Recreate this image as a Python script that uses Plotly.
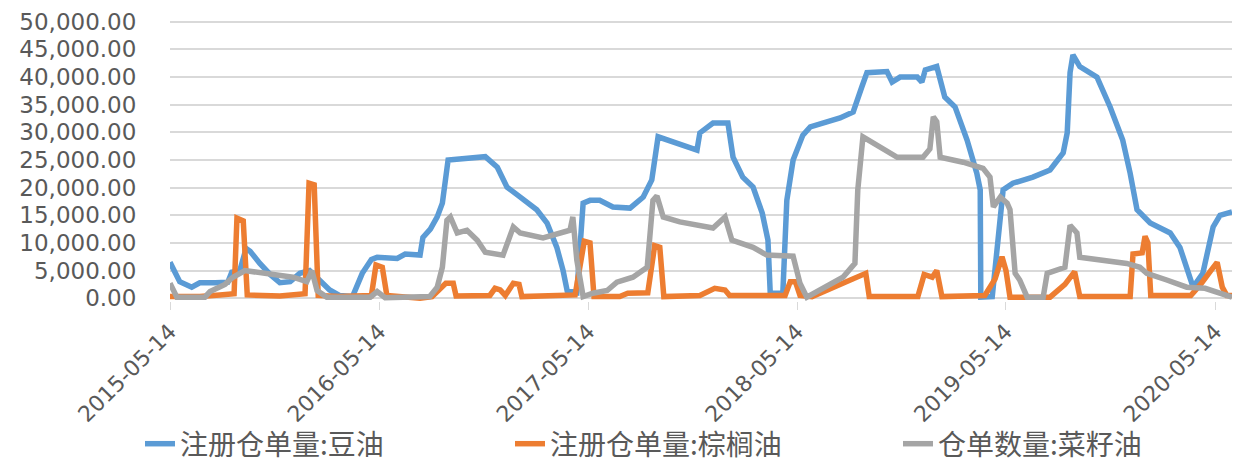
import plotly.graph_objects as go

# ---- data ----
soy_dates = ["2015-05-14","2015-05-31","2015-06-21","2015-07-05","2015-08-01","2015-08-23","2015-08-30",
             "2015-09-13","2015-09-24","2015-10-01","2015-10-18","2015-11-05","2015-11-22","2015-12-10",
             "2015-12-27","2016-01-13","2016-01-30","2016-02-17","2016-03-05","2016-03-28","2016-04-14",
             "2016-04-30","2016-05-10","2016-06-14","2016-06-28","2016-07-24","2016-07-29","2016-08-11",
             "2016-08-23","2016-09-01","2016-09-11","2016-10-19","2016-11-15","2016-12-06","2016-12-23",
             "2017-01-10","2017-02-13","2017-03-03","2017-03-20","2017-03-31","2017-04-07","2017-04-24",
             "2017-05-05","2017-05-17","2017-06-03","2017-06-26","2017-07-26","2017-08-18","2017-09-02",
             "2017-09-13","2017-10-09","2017-11-20","2017-11-25","2017-12-18","2018-01-13","2018-01-22",
             "2018-02-08","2018-02-26","2018-03-14","2018-03-24","2018-03-28","2018-04-19","2018-04-26",
             "2018-05-07","2018-05-24","2018-06-06","2018-07-28","2018-08-20","2018-09-04","2018-09-13",
             "2018-10-18","2018-10-27","2018-11-10","2018-12-10","2018-12-18","2018-12-24","2019-01-13",
             "2019-01-27","2019-02-14","2019-03-07","2019-03-24","2019-03-30","2019-03-31","2019-04-20",
             "2019-05-09","2019-05-26","2019-06-30","2019-07-30","2019-08-22","2019-08-29","2019-09-03",
             "2019-09-08","2019-09-20","2019-10-20","2019-11-12","2019-12-04","2019-12-17","2019-12-29",
             "2020-01-21","2020-02-25","2020-03-13","2020-03-27","2020-04-05","2020-04-22","2020-05-10",
             "2020-05-22","2020-06-12"]
soy_values = [6500,3000,2000,2800,2800,2900,4700,
              5000,9000,8500,6300,4300,2800,3000,
              4500,5000,3300,1500,500,300,4500,
              7000,7400,7200,8000,7800,11000,12500,
              14700,17200,25000,25400,25600,23700,20100,
              18700,16000,13600,9200,5000,1400,1000,
              17200,17700,17700,16500,16300,18300,21400,
              29200,28300,26800,29900,31700,31700,25500,
              21900,20100,15400,10500,900,900,17700,
              25000,29500,31000,32600,33700,38200,40800,
              41000,39100,40000,40000,39100,41300,41900,
              36400,34600,28600,22600,19600,200,300,
              19600,20800,21900,23200,26300,29900,40800,
              44000,41900,40000,34600,28600,22600,16000,
              13600,11800,9200,4500,2000,4500,12900,
              15000,15600]

palm_dates = ["2015-05-14","2015-07-05","2015-08-09","2015-09-03","2015-09-08","2015-09-19","2015-09-26",
              "2015-11-22","2016-01-05","2016-01-12","2016-01-21","2016-01-28","2016-03-05","2016-04-30",
              "2016-05-08","2016-05-19","2016-05-27","2016-07-24","2016-08-14","2016-09-07","2016-09-20",
              "2016-09-25","2016-11-23","2016-12-02","2016-12-11","2016-12-20","2017-01-03","2017-01-13",
              "2017-01-18","2017-04-21","2017-05-07","2017-05-17","2017-05-24","2017-07-08","2017-07-22",
              "2017-08-26","2017-09-07","2017-09-16","2017-09-23","2017-11-25","2017-12-21","2018-01-08",
              "2018-01-16","2018-04-23","2018-05-02","2018-05-11","2018-05-19","2018-06-09","2018-09-11",
              "2018-09-17","2018-12-11","2018-12-22","2019-01-05","2019-01-13","2019-01-22","2019-04-07",
              "2019-04-25","2019-05-07","2019-05-14","2019-05-21","2019-07-30","2019-08-25","2019-09-11",
              "2019-09-20","2019-12-17","2019-12-22","2020-01-07","2020-01-12","2020-01-17","2020-01-22",
              "2020-04-01","2020-04-18","2020-05-06","2020-05-17","2020-05-26","2020-06-03","2020-06-12"]
palm_values = [300,300,600,800,14500,14000,600,
               400,800,20800,20500,500,300,500,
               6000,5600,500,0,300,2700,2700,
               400,500,1800,1500,500,2700,2500,
               300,600,10300,10000,300,300,900,
               1000,9500,9200,300,500,1800,1500,
               500,500,3000,3000,500,300,4500,
               300,300,4300,3800,5000,300,500,
               3500,7500,5000,200,200,2500,4800,
               300,300,8000,8200,11200,10000,500,
               500,2500,5000,6500,2000,500,500]

rape_dates = ["2015-05-14","2015-05-26","2015-07-14","2015-07-23","2015-08-18","2015-09-01","2015-09-22",
              "2015-10-18","2015-12-15","2016-01-08","2016-01-17","2016-01-26","2016-02-12","2016-04-28",
              "2016-05-10","2016-05-24","2016-08-10","2016-08-23","2016-09-01","2016-09-09","2016-09-15",
              "2016-09-27","2016-10-14","2016-11-01","2016-11-15","2016-12-16","2017-01-03","2017-01-15",
              "2017-02-24","2017-04-12","2017-04-17","2017-04-24","2017-05-05","2017-05-22","2017-06-16",
              "2017-07-03","2017-07-31","2017-08-25","2017-09-04","2017-09-11","2017-09-22","2017-10-21",
              "2017-12-18","2018-01-08","2018-01-20","2018-02-26","2018-03-22","2018-05-07","2018-05-19",
              "2018-05-31","2018-06-28","2018-08-02","2018-08-23","2018-08-28","2018-09-06","2018-09-24",
              "2018-11-05","2018-12-20","2019-01-01","2019-01-07","2019-01-13","2019-01-19","2019-02-28",
              "2019-04-04","2019-04-16","2019-04-22","2019-05-04","2019-05-16","2019-05-21","2019-05-30",
              "2019-06-07","2019-06-20","2019-07-18","2019-07-25","2019-08-25","2019-09-03","2019-09-15",
              "2019-09-20","2019-10-25","2019-12-11","2020-01-03","2020-01-15","2020-02-19","2020-03-25",
              "2020-04-26","2020-05-22","2020-06-12"]
rape_values = [2700,200,200,1200,2500,3800,5000,
               4700,3800,3000,5000,1400,200,200,
               1200,100,300,2000,5600,14100,14700,
               11800,12300,10500,8300,7800,12900,11800,
               10900,12300,14700,6900,300,900,1400,
               2900,3800,5600,17700,18500,14700,13800,
               12700,14700,10500,9200,7800,7600,2700,
               200,1800,3800,6300,19600,29200,28100,
               25500,25500,27000,32800,31900,25500,24600,
               23500,21900,16500,18300,17200,16000,4500,
               3300,200,200,4500,5600,13200,11800,
               7400,6900,6300,5600,4500,3300,2000,
               1800,900,200]

series_names = ["注册仓单量:豆油", "注册仓单量:棕榈油", "仓单数量:菜籽油"]
series_colors = ["#5B9BD5", "#ED7D31", "#A5A5A5"]
legend_ids = ["legend", "legend2", "legend3"]
legend_x = [140 / 1234, 510 / 1234, 898 / 1234]
tick_dates = ["2015-05-14", "2016-05-14", "2017-05-14", "2018-05-14", "2019-05-14", "2020-05-14"]
y_ticks = [0, 5000, 10000, 15000, 20000, 25000, 30000, 35000, 40000, 45000, 50000]

fig = go.Figure()
for name, color, lid, xs, ys in zip(series_names, series_colors, legend_ids,
                                    [soy_dates, palm_dates, rape_dates],
                                    [soy_values, palm_values, rape_values]):
    fig.add_trace(go.Scatter(x=xs, y=ys, mode="lines", name=name, legend=lid,
                             line=dict(color=color, width=5.5)))

legend_style = dict(orientation="h", xref="container", yref="container",
                    y=0.0, xanchor="left", yanchor="bottom",
                    font=dict(family="Noto Sans CJK SC", size=28, color="#595959"),
                    itemwidth=30, bgcolor="rgba(0,0,0,0)")

fig.update_layout(
    width=1234, height=469,
    margin=dict(l=170, r=2, t=19, b=168, autoexpand=False),
    paper_bgcolor="white", plot_bgcolor="white",
    font=dict(family="DejaVu Sans", color="#595959"),
    showlegend=True,
    legend=dict(legend_style, x=legend_x[0]),
    legend2=dict(legend_style, x=legend_x[1]),
    legend3=dict(legend_style, x=legend_x[2]),
)
fig.update_xaxes(type="date", range=["2015-05-14", "2020-06-12"],
                 tickvals=tick_dates, ticktext=tick_dates, tickangle=-45,
                 tickfont=dict(size=22, color="#595959"), automargin=False,
                 showgrid=False, zeroline=False, showline=False,
                 ticks="outside", ticklen=8, tickcolor="#D9D9D9")
fig.update_yaxes(range=[-500, 50500], tickvals=y_ticks, tickformat=",.2f",
                 tickfont=dict(size=23, color="#595959"), automargin=False,
                 showgrid=True, gridcolor="#D9D9D9", gridwidth=1.5,
                 zeroline=False, showline=False,
                 ticks="outside", ticklen=28, tickcolor="rgba(0,0,0,0)")

fig.write_html("out.html")
